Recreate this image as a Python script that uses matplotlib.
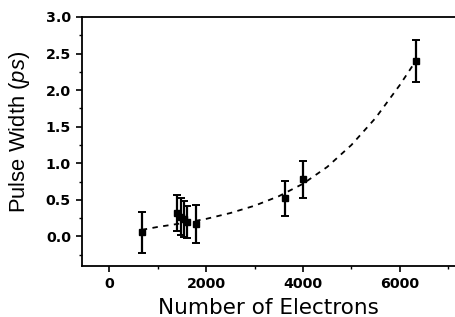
import matplotlib
matplotlib.use('Agg')
import matplotlib.pyplot as plt
import numpy as np

plt.rcParams['font.family'] = ['DejaVu Sans']
plt.rcParams['mathtext.fontset'] = 'custom'
plt.rcParams['mathtext.it'] = 'Liberation Sans:italic'
plt.rcParams['mathtext.rm'] = 'Liberation Sans'

# measured points
electrons = [670, 1390, 1470, 1540, 1600, 1780, 3620, 4010, 6330]
width_ps = [0.06, 0.32, 0.27, 0.24, 0.20, 0.17, 0.52, 0.78, 2.40]
width_err = [0.28, 0.25, 0.25, 0.25, 0.22, 0.26, 0.24, 0.25, 0.29]

# dashed fit curve
fit_x = [670, 1000, 1500, 2000, 2500, 3000, 3500, 4000, 4500, 5000, 5500, 6000, 6330]
fit_y = [0.09, 0.13, 0.18, 0.24, 0.32, 0.42, 0.55, 0.72, 0.95, 1.25, 1.62, 2.07, 2.40]

fig = plt.figure(figsize=(4.55, 3.17), dpi=100)
ax = fig.add_axes([82/455, 1 - 265.7/317, 1 - 82/455, (265.7 - 17)/317])

ax.plot(fit_x, fit_y, color='black', lw=1.3, ls=(0, (3, 3)))
ax.errorbar(electrons, width_ps, yerr=width_err, fmt='s', color='black',
            ms=5, elinewidth=1.6, capsize=3, capthick=1.4)

ax.set_xlim(-565, 7140)
ax.set_ylim(-0.4, 3.0)
ax.set_xticks([0, 2000, 4000, 6000])
ax.set_xticks([1000, 3000, 5000, 7000], minor=True)
ax.set_yticks(np.arange(0, 3.01, 0.5))
ax.set_yticks(np.arange(-0.25, 3.0, 0.5), minor=True)
ax.yaxis.set_major_formatter(matplotlib.ticker.FormatStrFormatter('%.1f'))
for lab in ax.get_xticklabels() + ax.get_yticklabels():
    lab.set_fontweight('bold')

ax.spines['right'].set_visible(False)
for s in ['left', 'bottom', 'top']:
    ax.spines[s].set_linewidth(1.3)
ax.tick_params(which='major', direction='out', length=4, width=1.2, labelsize=10.2, pad=4)
ax.tick_params(which='minor', direction='out', length=2.5, width=1.0)
ax.tick_params(top=False, right=False)

ax.set_xlabel('Number of Electrons', fontsize=15.5)
ax.set_ylabel('Pulse Width ($\\mathit{ps}$)', fontsize=15.8, family='Liberation Sans')
ax.xaxis.set_label_coords(0.5, -0.1315)
ax.yaxis.set_label_coords(-0.135, 0.537)

fig.savefig('out.png', dpi=100)
